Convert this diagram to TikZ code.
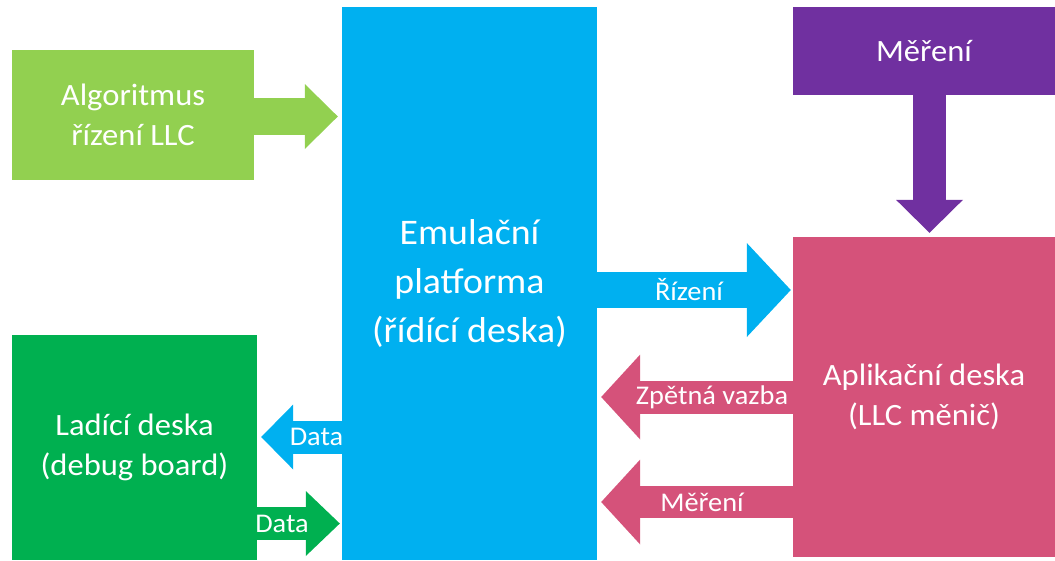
\documentclass[tikz,border=0pt]{standalone}
\usepackage{fontspec}
\setmainfont{Carlito}[FakeStretch=1.05]
\usetikzlibrary{arrows.meta}
\definecolor{lgreen}{HTML}{92D050}
\definecolor{emublue}{HTML}{00B0F0}
\definecolor{dgreen}{HTML}{00B050}
\definecolor{measviolet}{HTML}{7030A0}
\definecolor{apppink}{HTML}{D5527A}
\tikzset{
  box/.style={rectangle,inner sep=0pt,align=center,text=white,font=\fontsize{31}{40}\selectfont},
  blockarr/.style 2 args={line width=33pt,-{Triangle[length=#1,width=#2,line width=0pt]}},
  arrlabel/.style={text=white,font=\fontsize{27}{30}\selectfont},
}

\begin{document}
\begin{tikzpicture}[line cap=butt,line join=miter,x=1pt,y=-1pt]
\useasboundingbox (0,0) rectangle (1055,560);
\node[box,fill=lgreen,minimum width=242pt,minimum height=130pt] (alg) at (133,115) {Algoritmus\\řízení LLC};
\node[box,fill=emublue,minimum width=255pt,minimum height=553pt,font=\fontsize{36}{49}\selectfont] (emu) at (469.5,283.5) {Emulační\\platforma\\(řídící deska)};
\node[box,fill=measviolet,minimum width=262pt,minimum height=88pt] (meas) at (924,51) {Měření};
\node[box,fill=apppink,minimum width=262pt,minimum height=320pt] (app) at (924,397) {Aplikační deska\\(LLC měnič)};
\node[box,fill=dgreen,minimum width=245pt,minimum height=225pt] (dbg) at (134.5,447.5) {Ladící deska\\(debug board)};
\draw[blockarr={33pt}{65pt},lgreen,line width=37pt,shorten >=4pt] (alg.east |- 0,116.5) -- (emu.west |- 0,116.5);
\draw[blockarr={33pt}{67pt},measviolet,shorten >=4pt] ([xshift=5.5pt]meas.south) -- ([xshift=5.5pt]app.north);
\draw[blockarr={44pt}{94pt},emublue,line width=36pt,shorten >=2pt] (emu.east |- 0,290) -- (app.west |- 0,290)
  node[arrlabel,midway,xshift=-6pt] {Řízení};
\draw[blockarr={39pt}{85pt},apppink,shorten >=4pt] (app.west |- 0,397) -- (emu.east |- 0,397)
  node[arrlabel,midway,xshift=17pt] {Zpětná vazba};
\draw[blockarr={39pt}{85pt},apppink,line width=32pt,shorten >=4pt] (app.west |- 0,502) -- (emu.east |- 0,502)
  node[arrlabel,midway,xshift=7pt] {Měření};
\draw[blockarr={32pt}{65pt},emublue,shorten >=4pt] (emu.west |- 0,437) -- (dbg.east |- 0,437)
  node[arrlabel,midway,xshift=17pt] {Data};
\draw[blockarr={34pt}{65pt},dgreen,shorten >=2pt] (dbg.east |- 0,523.5) -- (emu.west |- 0,523.5)
  node[arrlabel,midway,xshift=-17.5pt] {Data};
\end{tikzpicture}
\end{document}
